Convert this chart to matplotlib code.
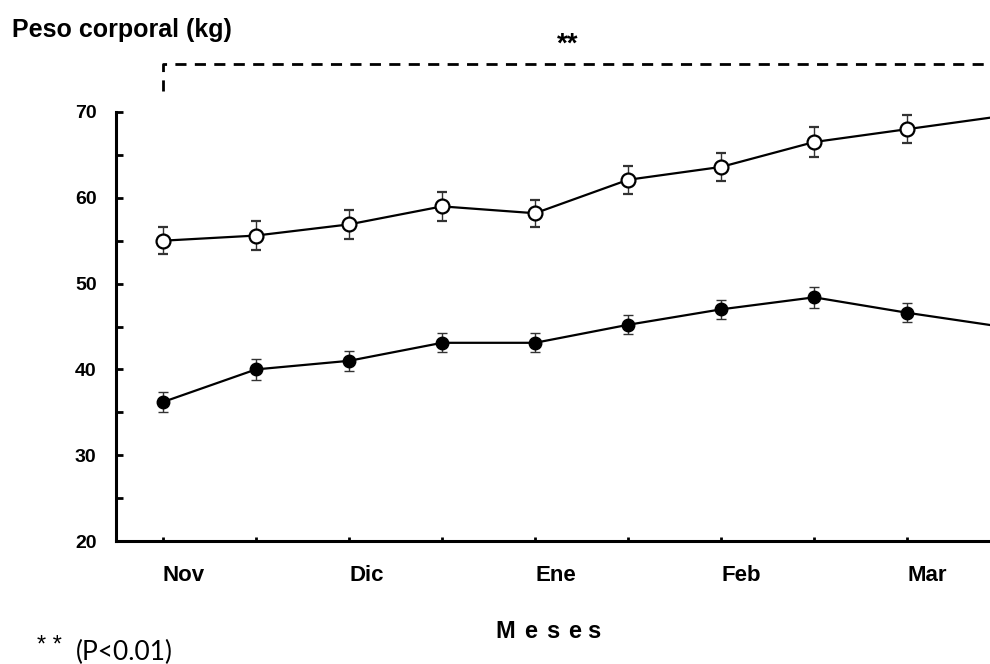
import numpy as np
import matplotlib
matplotlib.use("Agg")
import matplotlib.pyplot as plt
from matplotlib.transforms import ScaledTranslation

plt.rcParams['font.family'] = ['Liberation Sans', 'DejaVu Sans']

# data
month_labels = ['Nov', '', 'Dic', '', 'Ene', '', 'Feb', '', 'Mar', '']
open_mean = [55.0, 55.6, 56.9, 59.0, 58.2, 62.1, 63.6, 66.5, 68.0, 69.5]
open_err = [1.6, 1.7, 1.7, 1.7, 1.6, 1.6, 1.6, 1.7, 1.6, 1.6]
filled_mean = [36.2, 40.0, 41.0, 43.1, 43.1, 45.2, 47.0, 48.4, 46.6, 45.0]
filled_err = [1.2, 1.2, 1.2, 1.1, 1.1, 1.1, 1.1, 1.2, 1.1, 1.1]
y_ticks = [20, 30, 40, 50, 60, 70]

x = np.arange(len(open_mean))

fig = plt.figure(figsize=(9.9, 6.64), dpi=100)
ax = fig.add_axes([116 / 990, 123 / 664, 1 - 116 / 990, (541 - 112) / 664])

ax.errorbar(x, open_mean, yerr=open_err, color='black', lw=1.6, ecolor='#333333',
            elinewidth=1.0, capsize=3.5, capthick=1.0, marker='o', ms=10,
            mfc='white', mec='black', mew=1.6, zorder=3)
ax.errorbar(x, filled_mean, yerr=filled_err, color='black', lw=1.6, ecolor='#333333',
            elinewidth=1.0, capsize=3.5, capthick=1.0, marker='o', ms=9,
            mfc='black', mec='black', zorder=3)

ax.set_xticks(x)
ax.set_xticklabels(month_labels, fontsize=16, fontweight='bold', ha='left')
shift = ScaledTranslation(-3 / 100, 0, fig.dpi_scale_trans)
for lab in ax.get_xticklabels():
    lab.set_transform(lab.get_transform() + shift)
ax.set_yticks(np.arange(20, 71, 5))
ax.set_yticklabels([str(v) if v in y_ticks else '' for v in np.arange(20, 71, 5)],
                   fontsize=14, fontweight='bold')
# limits after the ticks, so the tick at index 9 doesn't stretch the axis
ax.set_xlim(-0.505, 8.89)
ax.set_ylim(20, 70)
ax.tick_params(axis='x', direction='in', length=3, width=2, pad=17)
ax.tick_params(axis='y', direction='in', length=5, width=2, pad=14)

for side in ['top', 'right']:
    ax.spines[side].set_visible(False)
for side in ['left', 'bottom']:
    ax.spines[side].set_linewidth(2.2)

# significance bracket
ax.plot([0, 0, 9.5], [72.4, 75.6, 75.6], color='black', lw=2, ls=(0, (4, 3)),
        clip_on=False, scalex=False, scaley=False)
fig.text(568 / 990, 1 - 45 / 664, '**', ha='center', va='center', fontsize=20,
         fontweight='bold')

fig.text(12 / 990, 1 - 30 / 664, 'Peso corporal (kg)', fontsize=18, fontweight='bold',
         ha='left', va='center')
for letter, xc in zip('Meses', [505, 531, 553, 575, 594]):
    fig.text(xc / 990, 1 - 632 / 664, letter, fontsize=17, fontweight='bold',
             ha='center', va='center')
fig.text(49 / 990, 1 - 646 / 664, '* *', fontsize=17, ha='center', va='center')
fig.text(76 / 990, 1 - 652 / 664, '(P<0.01)', fontsize=19, family=['Lato', 'DejaVu Sans'],
         ha='left', va='center')

fig.savefig('out.png', dpi=100)
